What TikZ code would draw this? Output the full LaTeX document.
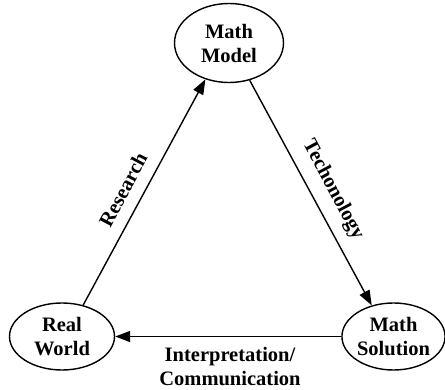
\documentclass[tikz,border=0pt]{standalone}
\usepackage{fontspec}
\setmainfont{Liberation Serif}
\usetikzlibrary{shapes.geometric,arrows.meta}
\begin{document}
\begin{tikzpicture}[x=1pt,y=-1pt,
  stage/.style={draw,ellipse,line width=1.4pt,inner sep=0pt,align=center,
    font=\fontsize{20.5}{24}\selectfont\bfseries},
  flow/.style={line width=1.4pt,-{Triangle[length=15pt,width=11pt]}},
  lab/.style={font=\fontsize{20.5}{24}\selectfont\bfseries,align=center}]
\useasboundingbox (0,0) rectangle (445,390);
\node[stage,minimum width=109pt,minimum height=79pt] (mm) at (229,43) {Math\\Model};
\node[stage,minimum width=105pt,minimum height=67pt] (rw) at (62,336.5) {Real\\World};
\node[stage,minimum width=99pt,minimum height=67pt] (ms) at (393.5,336.5) {Math\\Solution};
\draw[flow] (rw.56) -- (mm.237);
\draw[flow] (mm.299) -- (ms.125);
\draw[flow] (ms.west) -- (rw.east);
\node[lab,rotate=62] (lr) at (123,190) {Research};
\node[lab,rotate=-62] (lt) at (333,190) {Techonology};
\node[lab] (li) at (230,367) {Interpretation/\\Communication};
\end{tikzpicture}
\end{document}
